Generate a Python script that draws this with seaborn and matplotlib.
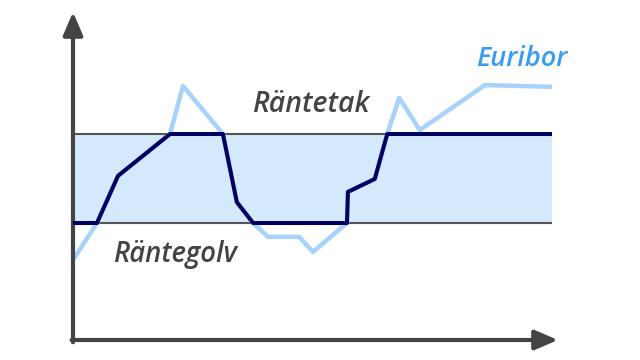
import numpy as np
import pandas as pd
import matplotlib
matplotlib.use("Agg")
import matplotlib.pyplot as plt
import seaborn as sns

# ---- data ----
time = [0, 5.0, 9.4, 20.25, 22.96, 31.3, 34.2, 37.6, 40.7, 47.2, 50.1, 57.2, 57.4, 63.0, 65.6, 68.1, 72.4, 86.0, 100]
euribor = [0.17, 1.0, 2.06, 3.0, 4.08, 3.0, 1.47, 1.0, 0.69, 0.69, 0.35, 1.0, 1.70, 1.99, 3.0, 3.81, 3.09, 4.10, 4.06]
floor_rate = 1.0   # Räntegolv
cap_rate = 3.0     # Räntetak
labels = {"cap": "Räntetak", "floor": "Räntegolv", "series": "Euribor"}

capped = np.clip(euribor, floor_rate, cap_rate)
df = pd.DataFrame({"t": time, "euribor": euribor, "capped": capped})

sns.set_theme(style="white")
plt.rcParams["font.family"] = ["Open Sans", "DejaVu Sans"]

fig = plt.figure(figsize=(6.4, 3.6), dpi=100)
ax = fig.add_axes([73 / 640, 20 / 360, 479 / 640, 328 / 360])
ax.set_xlim(0, 100)
ax.set_ylim(-1.629, 5.742)
ax.axis("off")

t0, t1 = time[0], time[-1]
ax.fill_between([t0, t1], floor_rate, cap_rate, color="#d5e9fd", lw=0, zorder=1)
ax.plot([t0, t1], [cap_rate, cap_rate], color="#555555", lw=1.5, zorder=2)
ax.plot([t0, t1], [floor_rate, floor_rate], color="#555555", lw=1.5, zorder=2)

sns.lineplot(data=df, x="t", y="euribor", ax=ax, color="#a6d2fb", lw=3.2,
             sort=False, estimator=None, zorder=3)
sns.lineplot(data=df, x="t", y="capped", ax=ax, color="#000060", lw=2.9,
             sort=False, estimator=None, zorder=4)

# axes with arrows
ymin, ymax = ax.get_ylim()
axis_col = "#444444"
ax.annotate("", xy=(0, ymax), xytext=(0, ymin - 0.05), xycoords="data",
            arrowprops=dict(arrowstyle="-|>,head_length=0.7,head_width=0.3",
                            color=axis_col, lw=3, shrinkA=0, shrinkB=0,
                            mutation_scale=20), annotation_clip=False)
ax.annotate("", xy=(101.25, ymin), xytext=(-0.3, ymin), xycoords="data",
            arrowprops=dict(arrowstyle="-|>,head_length=0.7,head_width=0.3",
                            color=axis_col, lw=3, shrinkA=0, shrinkB=0,
                            mutation_scale=20), annotation_clip=False)

txt = dict(fontstyle="italic", fontweight="semibold", va="baseline", ha="center")
ax.text(49.7, 3.49, labels["cap"], color="#444444", fontsize=20.5, **txt)
ax.text(21.2, 0.12, labels["floor"], color="#444444", fontsize=19.8, **txt)
ax.text(93.7, 4.53, labels["series"], color="#3a9cf4", fontsize=19.5, **txt)

fig.savefig("out.png", dpi=100)
